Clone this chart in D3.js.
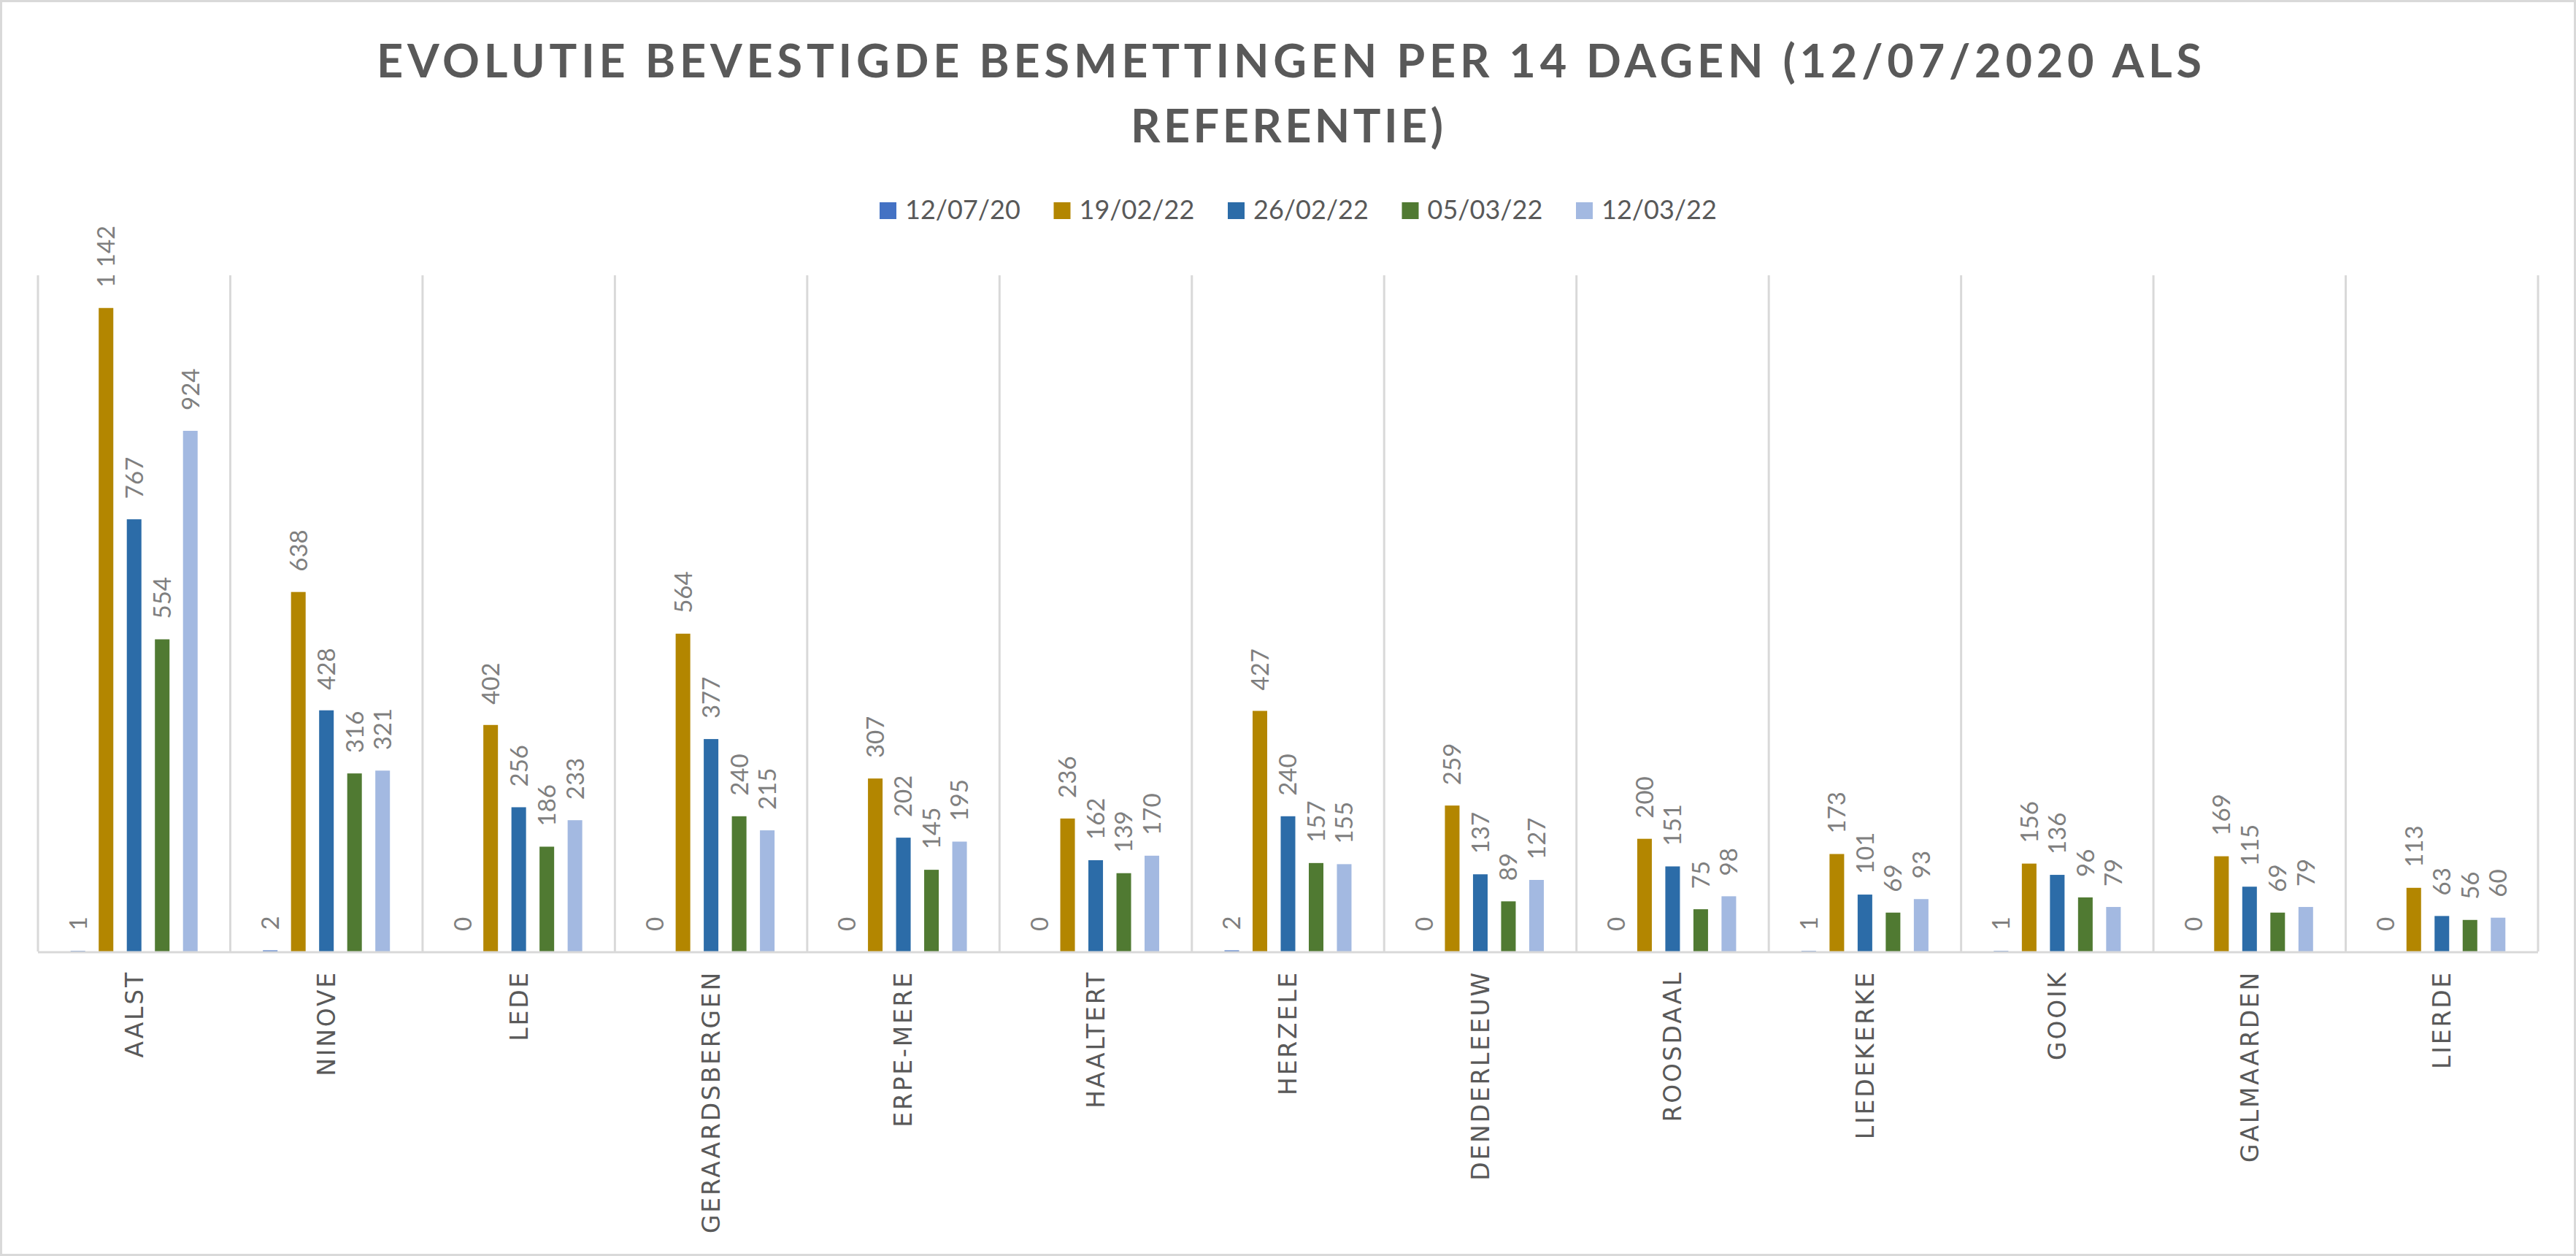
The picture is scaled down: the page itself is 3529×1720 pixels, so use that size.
<!DOCTYPE html>
<html>
<head>
<meta charset="utf-8">
<script src="https://cdn.jsdelivr.net/npm/d3@7"></script>
<style>
  body { margin: 0; background: #fff; }
</style>
</head>
<body>
<div id="chart-area"></div>
<script>
var width = 3529,
    height = 1720;

// data
var gemeenten = ["AALST", "NINOVE", "LEDE", "GERAARDSBERGEN", "ERPE-MERE", "HAALTERT",
  "HERZELE", "DENDERLEEUW", "ROOSDAAL", "LIEDEKERKE", "GOOIK", "GALMAARDEN", "LIERDE"];
var datums = ["12/07/20", "19/02/22", "26/02/22", "05/03/22", "12/03/22"];
var w120720 = [1, 2, 0, 0, 0, 0, 2, 0, 0, 1, 1, 0, 0];
var w190222 = [1142, 638, 402, 564, 307, 236, 427, 259, 200, 173, 156, 169, 113];
var w260222 = [767, 428, 256, 377, 202, 162, 240, 137, 151, 101, 136, 115, 63];
var w050322 = [554, 316, 186, 240, 145, 139, 157, 89, 75, 69, 96, 69, 56];
var w120322 = [924, 321, 233, 215, 195, 170, 155, 127, 98, 93, 79, 79, 60];
var kleuren = ["#4472c4", "#b38600", "#2c6ca8", "#507a32", "#a3b9e1"];

var reeksen = [w120720, w190222, w260222, w050322, w120322];
var titel = ["EVOLUTIE BEVESTIGDE BESMETTINGEN PER 14 DAGEN (12/07/2020 ALS", "REFERENTIE)"];

var svg = d3.select("#chart-area").append("svg")
    .attr("width", width)
    .attr("height", height);

// chart border
svg.append("rect")
    .attr("x", 1.5).attr("y", 1.5)
    .attr("width", width - 3).attr("height", height - 3)
    .attr("fill", "#fff")
    .attr("stroke", "#d9d9d9")
    .attr("stroke-width", 3);

// title
svg.append("text")
    .attr("x", 1766).attr("y", 106)
    .attr("text-anchor", "middle")
    .attr("textLength", 2500)
    .attr("lengthAdjust", "spacing")
    .style("font-family", "Lato, 'Open Sans', sans-serif")
    .style("font-weight", "bold")
    .style("font-size", "63px")
    .style("fill", "#595959")
    .text(titel[0]);
svg.append("text")
    .attr("x", 1763).attr("y", 195)
    .attr("text-anchor", "middle")
    .attr("textLength", 428)
    .attr("lengthAdjust", "spacing")
    .style("font-family", "Lato, 'Open Sans', sans-serif")
    .style("font-weight", "bold")
    .style("font-size", "63px")
    .style("fill", "#595959")
    .text(titel[1]);

// legend
var legend = svg.append("g").attr("class", "legend");
var item = legend.selectAll("g")
    .data(datums)
    .enter()
    .append("g")
    .attr("transform", function(d, i) { return "translate(" + (1205 + i * 238.5) + ",277)"; });
item.append("rect")
    .attr("width", 23).attr("height", 23)
    .attr("fill", function(d, i) { return kleuren[i]; });
item.append("text")
    .attr("x", 35).attr("y", 23)
    .style("font-family", "Lato, sans-serif")
    .style("font-size", "36px")
    .style("fill", "#595959")
    .text(function(d) { return d; });

// scales
var x0 = d3.scaleBand()
    .domain(gemeenten)
    .range([52, 3477])
    .padding(0);

var x1 = d3.scaleBand()
    .domain(datums)
    .range([0, x0.bandwidth()])
    .paddingInner(0.48)
    .paddingOuter(1.162);

var y = d3.scaleLinear()
    .domain([0, 1200])
    .range([1303, 377]);

// vertical gridlines at the category edges
var grenzen = gemeenten.map(function(g) { return x0(g); }).concat([x0.range()[1]]);
svg.append("g").attr("class", "grid")
  .selectAll("line")
  .data(grenzen)
  .enter()
  .append("line")
    .attr("x1", d => d).attr("x2", d => d)
    .attr("y1", y(1200)).attr("y2", y(0))
    .style("stroke", "#d9d9d9")
    .style("stroke-width", 3);

var fmt = d3.formatLocale({ decimal: ",", thousands: "\u00a0", grouping: [3], currency: ["", "€"] }).format(",d");

// bars + labels
var groep = svg.selectAll(".gemeente")
    .data(gemeenten)
    .enter()
    .append("g")
    .attr("class", "gemeente")
    .attr("transform", d => "translate(" + x0(d) + ",0)");

var cellen = groep.selectAll("g")
    .data(function(g, gi) {
      return datums.map(function(dt, si) {
        return { datum: dt, kleur: kleuren[si], waarde: reeksen[si][gi] };
      });
    })
    .enter()
    .append("g");

cellen.append("rect")
    .attr("x", d => x1(d.datum))
    .attr("width", x1.bandwidth())
    .attr("y", d => y(d.waarde))
    .attr("height", d => y(0) - y(d.waarde))
    .style("fill", d => d.kleur);

cellen.append("text")
    .attr("transform", d => "translate(" + (x1(d.datum) + x1.bandwidth() / 2) + "," + (y(d.waarde) - 28) + ") rotate(-90)")
    .attr("dy", "0.36em")
    .attr("text-anchor", "start")
    .style("font-family", "Lato, sans-serif")
    .style("font-size", "33px")
    .style("fill", "#7f7f7f")
    .text(d => fmt(d.waarde));

// category axis line
svg.append("line")
    .attr("x1", x0.range()[0]).attr("x2", x0.range()[1])
    .attr("y1", y(0) + 1).attr("y2", y(0) + 1)
    .style("stroke", "#d9d9d9")
    .style("stroke-width", 3);

// category labels, rotated
svg.append("g").attr("class", "categorie")
  .selectAll("text")
  .data(gemeenten)
  .enter()
  .append("text")
    .attr("transform", d => "translate(" + (x0(d) + x0.bandwidth() / 2) + ",1329) rotate(-90)")
    .attr("dy", "0.36em")
    .attr("text-anchor", "end")
    .style("font-family", "'DejaVu Sans', sans-serif")
    .style("font-size", "33px")
    .style("letter-spacing", "2.8px")
    .style("fill", "#595959")
    .text(d => d);
</script>
</body>
</html>
